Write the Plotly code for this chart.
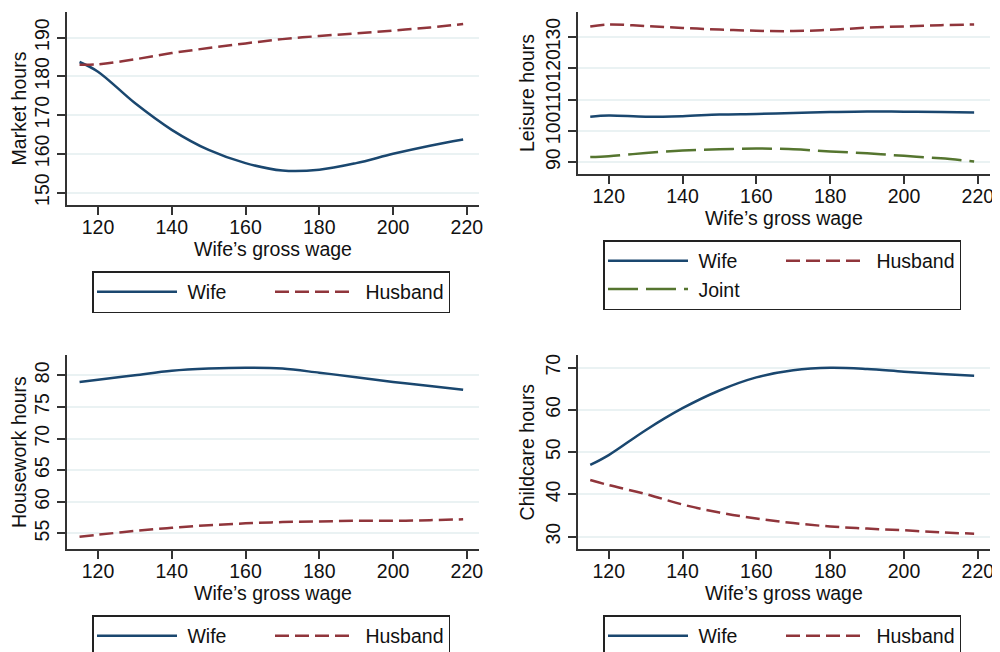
import plotly.graph_objects as go

# ---- data ----
wage = [115, 120, 130, 140, 150, 160, 170, 180, 190, 200, 210, 219]

market_wife    = [183.7, 181.2, 173.1, 166.2, 161.0, 157.6, 155.7, 155.9, 157.6, 160.0, 162.1, 163.7]
market_husband = [183.0, 183.1, 184.4, 186.0, 187.3, 188.5, 189.6, 190.4, 191.1, 191.8, 192.6, 193.5]

leisure_wife    = [104.5, 104.9, 104.5, 104.7, 105.2, 105.4, 105.7, 106.0, 106.2, 106.1, 106.0, 105.9]
leisure_husband = [133.4, 134.0, 133.5, 132.9, 132.4, 132.0, 131.9, 132.3, 133.0, 133.4, 133.8, 134.0]
leisure_joint   = [91.6, 91.9, 92.9, 93.7, 94.1, 94.35, 94.1, 93.4, 92.8, 92.0, 91.2, 90.2]

house_wife    = [78.95, 79.3, 80.0, 80.7, 81.05, 81.2, 81.05, 80.4, 79.7, 78.95, 78.3, 77.7]
house_husband = [54.5, 54.8, 55.4, 55.9, 56.3, 56.6, 56.8, 56.9, 57.0, 57.0, 57.1, 57.25]

child_wife    = [46.96, 49.3, 55.2, 60.4, 64.6, 67.7, 69.4, 70.0, 69.7, 69.05, 68.5, 68.1]
child_husband = [43.4, 42.2, 40.1, 37.6, 35.7, 34.3, 33.2, 32.4, 31.9, 31.5, 31.0, 30.7]

x_ticks = [120, 140, 160, 180, 200, 220]
market_ticks = [150, 160, 170, 180, 190]
leisure_ticks = [90, 100, 110, 120, 130]
house_ticks = [55, 60, 65, 70, 75, 80]
child_ticks = [30, 40, 50, 60, 70]

x_title = "Wife\u2019s gross wage"
NB = "\u00a0"

NAVY = "#1a476f"
MAROON = "#90353b"
GREEN = "#55752f"
FONT = "Liberation Sans, Arial, sans-serif"
FS = 19.5
DASH_H = "14px,6px"
DASH_J = "30px,8px"

W, H = 1000, 652
OFF = 8  # page body margin offset

fig = go.Figure()

def add(x, y, name, color, dash, xa, ya, legend, group):
    fig.add_trace(go.Scatter(
        x=x, y=y, name=NB + name, mode="lines",
        line=dict(color=color, width=2.5, dash=dash, shape="spline", smoothing=1.0),
        xaxis=xa, yaxis=ya, legend=legend, legendgroup=group, showlegend=True))

add(wage, market_wife, "Wife", NAVY, "solid", "x", "y", "legend", "a1")
add(wage, market_husband, "Husband", MAROON, DASH_H, "x", "y", "legend", "b1")
add(wage, leisure_wife, "Wife", NAVY, "solid", "x2", "y2", "legend2", "a2")
add(wage, leisure_husband, "Husband", MAROON, DASH_H, "x2", "y2", "legend2", "b2")
add(wage, leisure_joint, "Joint", GREEN, DASH_J, "x2", "y2", "legend2", "a2")
add(wage, house_wife, "Wife", NAVY, "solid", "x3", "y3", "legend3", "a3")
add(wage, house_husband, "Husband", MAROON, DASH_H, "x3", "y3", "legend3", "b3")
add(wage, child_wife, "Wife", NAVY, "solid", "x4", "y4", "legend4", "a4")
add(wage, child_husband, "Husband", MAROON, DASH_H, "x4", "y4", "legend4", "b4")

def xaxis(domain, anchor):
    return dict(domain=domain, anchor=anchor, range=[111.6, 223.3],
                tickvals=x_ticks, ticks="outside", ticklen=8, tickwidth=1.5,
                tickcolor="#333", showline=True, linecolor="#333", linewidth=1.5,
                showgrid=False, zeroline=False, ticklabelstandoff=-4,
                title=dict(text=x_title, font=dict(size=FS, color="#111"), standoff=0),
                tickfont=dict(size=FS, color="#111"))

def yaxis(domain, anchor, rng, ticks, title):
    return dict(domain=domain, anchor=anchor, range=rng,
                tickvals=ticks, ticks="outside", ticklen=8, tickwidth=1.5,
                tickcolor="#333", showline=True, linecolor="#333", linewidth=1.5,
                showgrid=True, gridcolor="#eaf2f3", gridwidth=1.5, zeroline=False,
                tickangle=-90,
                title=dict(text=title, font=dict(size=FS, color="#111"), standoff=2),
                tickfont=dict(size=FS, color="#111"))

def xd(a, b):
    return [(a - OFF) / W, (b - OFF) / W]

def yd(top, bottom):
    return [1 - (bottom - OFF) / H, 1 - (top - OFF) / H]

xl = xd(67, 479)
xr = xd(577.7, 990)
yt1 = yd(12, 205)
yt2 = yd(12, 174)
yb = yd(355, 549.3)

def legend(x0, ytop):
    return dict(x=(x0 - OFF) / W, y=1 - (ytop - OFF) / H, xanchor="left", yanchor="top",
                orientation="h", bordercolor="#222", borderwidth=1.5,
                bgcolor="white", font=dict(size=FS, family=FONT, color="#111"),
                traceorder="grouped", tracegroupgap=0,
                itemwidth=80, entrywidth=83, entrywidthmode="pixels")

fig.update_layout(
    width=W, height=H,
    margin=dict(l=0, r=0, t=0, b=0, autoexpand=False),
    paper_bgcolor="white", plot_bgcolor="white",
    font=dict(family=FONT, size=FS, color="#111"),
    xaxis=xaxis(xl, "y"), yaxis=yaxis(yt1, "x", [146.8, 196.6], market_ticks, "Market hours"),
    xaxis2=xaxis(xr, "y2"), yaxis2=yaxis(yt2, "x2", [86.2, 138.0], leisure_ticks, "Leisure hours"),
    xaxis3=xaxis(xl, "y3"), yaxis3=yaxis(yb, "x3", [52.5, 83.2], house_ticks, "Housework hours"),
    xaxis4=xaxis(xr, "y4"), yaxis4=yaxis(yb, "x4", [27.0, 73.0], child_ticks, "Childcare hours"),
    legend=legend(92, 271),
    legend2=legend(603, 240),
    legend3=legend(92, 615),
    legend4=legend(603, 615),
)

fig.write_html("out.html")
